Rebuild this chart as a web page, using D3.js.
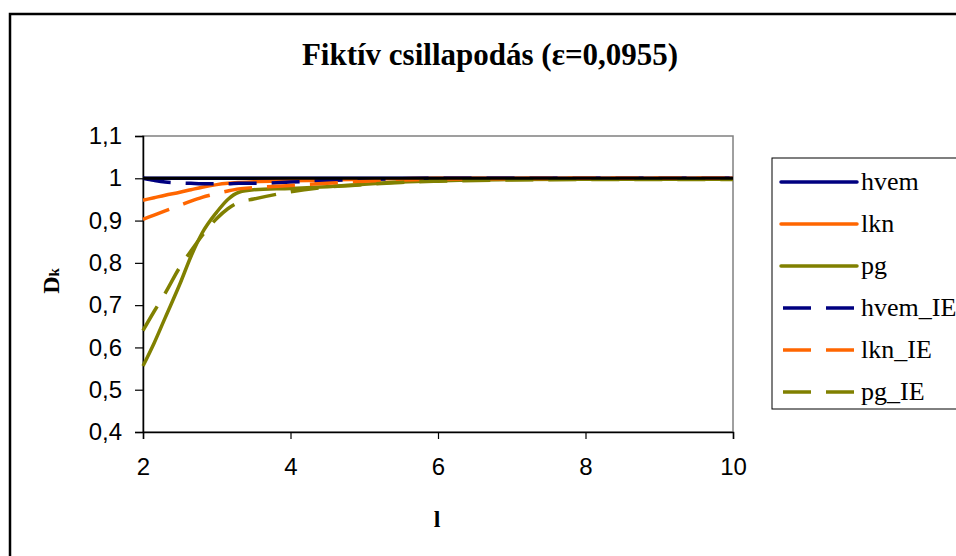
<!DOCTYPE html>
<html><head><meta charset="utf-8">
<script src="https://cdn.jsdelivr.net/npm/d3@7"></script>
<style>body{margin:0;background:#fff}svg{display:block}</style>
</head><body>
<script>
const ls = [2, 2.15, 2.3, 2.5, 2.65, 2.8, 3, 3.15, 3.3, 3.5, 4, 4.5, 5, 5.5, 6, 7, 8, 9, 10];
const hvem   = [1,1,1,1,1,1,1,1,1,1,1,1,1,1,1,1,1,1,1];
const lkn    = [0.948,0.954,0.960,0.967,0.973,0.979,0.985,0.988,0.990,0.992,0.994,0.996,0.998,0.999,1,1,1,1,1];
const pg     = [0.556,0.610,0.670,0.750,0.815,0.870,0.920,0.950,0.967,0.973,0.976,0.980,0.986,0.991,0.994,0.997,0.998,0.998,0.998];
const hvemIE = [1.000,0.995,0.991,0.989,0.988,0.987,0.987,0.987,0.988,0.988,0.991,0.995,0.997,0.999,1,1,1,1,1];
const lknIE  = [0.903,0.913,0.923,0.936,0.946,0.955,0.964,0.970,0.975,0.978,0.983,0.988,0.993,0.996,0.998,0.999,1,1,1];
const pgIE   = [0.640,0.685,0.728,0.790,0.828,0.864,0.905,0.928,0.943,0.951,0.968,0.979,0.985,0.990,0.993,0.996,0.997,0.997,0.997];
const seriesNames = ["hvem","lkn","pg","hvem_IE","lkn_IE","pg_IE"];
const seriesData = [hvem, lkn, pg, hvemIE, lknIE, pgIE];
const seriesColors = ["#000080","#FF6600","#808000","#000080","#FF6600","#808000"];
const seriesDashed = [false,false,false,true,true,true];
const yTicks = [0.4,0.5,0.6,0.7,0.8,0.9,1.0,1.1];
const xTicks = [2,4,6,8,10];
const refLine = 1;
const titleText = "Fiktív csillapodás (ε=0,0955)";

const W = 956, H = 556;
const svg = d3.select("body").append("svg").attr("width", W).attr("height", H);
// outer chart border
svg.append("rect").attr("x", 10).attr("y", 14).attr("width", 1000).attr("height", 600)
  .attr("fill", "#fff").attr("stroke", "#000").attr("stroke-width", 2.5);

const x = d3.scaleLinear().domain([2, 10]).range([143, 733]);
const y = d3.scaleLinear().domain([0.4, 1.1]).range([432, 136]);

// plot area border (gray)
svg.append("rect").attr("x", 143).attr("y", 136).attr("width", 590).attr("height", 296)
  .attr("fill", "none").attr("stroke", "#808080").attr("stroke-width", 1.5);

const fmt = d => d3.format(".1f")(d).replace(".", ",").replace(/,0$/, "");
const yAxis = svg.append("g").attr("transform", "translate(143,0)")
  .call(d3.axisLeft(y).tickValues(yTicks).tickFormat(fmt).tickSize(8).tickPadding(13));
const xAxis = svg.append("g").attr("transform", "translate(0,432)")
  .call(d3.axisBottom(x).tickValues(xTicks).tickFormat(d3.format("d")).tickSize(7).tickPadding(19));
[yAxis, xAxis].forEach(g => {
  g.select(".domain").attr("stroke", "#000").attr("stroke-width", 1.5);
  g.selectAll(".tick line").attr("stroke", "#000").attr("stroke-width", 1.2);
  g.selectAll("text").attr("font-family", "Liberation Sans, Arial, sans-serif")
    .attr("font-size", 24).attr("fill", "#000");
});

const line = d3.line().x((d, i) => x(ls[i])).y(d => y(d)).curve(d3.curveMonotoneX);
seriesData.forEach((vals, k) => {
  svg.append("path").datum(vals).attr("d", line).attr("fill", "none")
    .attr("stroke", seriesColors[k]).attr("stroke-width", 3.5)
    .attr("stroke-dasharray", seriesDashed[k] ? "28,15" : null);
});
svg.append("line").attr("x1", x(2)).attr("x2", x(10)).attr("y1", y(refLine)).attr("y2", y(refLine))
  .attr("stroke", "#000").attr("stroke-width", 3);

// title
svg.append("text").attr("x", 490).attr("y", 65).attr("text-anchor", "middle")
  .attr("font-family", "Liberation Serif, Times New Roman, serif").attr("font-weight", "bold")
  .attr("font-size", 31).text(titleText);
// axis titles
svg.append("text").attr("x", 437).attr("y", 527).attr("text-anchor", "middle")
  .attr("font-family", "Liberation Serif, Times New Roman, serif").attr("font-weight", "bold")
  .attr("font-size", 24).text("l");
const yt = svg.append("text").attr("transform", "translate(59,281) rotate(-90)").attr("text-anchor", "middle")
  .attr("font-family", "Liberation Serif, Times New Roman, serif").attr("font-weight", "bold")
  .attr("font-size", 24);
yt.append("tspan").text("D");
yt.append("tspan").attr("font-size", 15).text("k");

// legend
svg.append("rect").attr("x", 772).attr("y", 158).attr("width", 300).attr("height", 251)
  .attr("fill", "#fff").attr("stroke", "#000").attr("stroke-width", 1);
seriesNames.forEach((n, k) => {
  const cy = 182 + k * 42;
  svg.append("line").attr("x1", seriesDashed[k] ? 783 : 781).attr("x2", 857).attr("y1", cy).attr("y2", cy)
    .attr("stroke", seriesColors[k]).attr("stroke-width", 3.5)
    .attr("stroke-linecap", seriesDashed[k] ? "butt" : "round")
    .attr("stroke-dasharray", seriesDashed[k] ? "28,15" : null);
  svg.append("text").attr("x", 861).attr("y", cy + 8)
    .attr("font-family", "Liberation Serif, Times New Roman, serif").attr("font-size", 26).text(n);
});
</script>
</body></html>
